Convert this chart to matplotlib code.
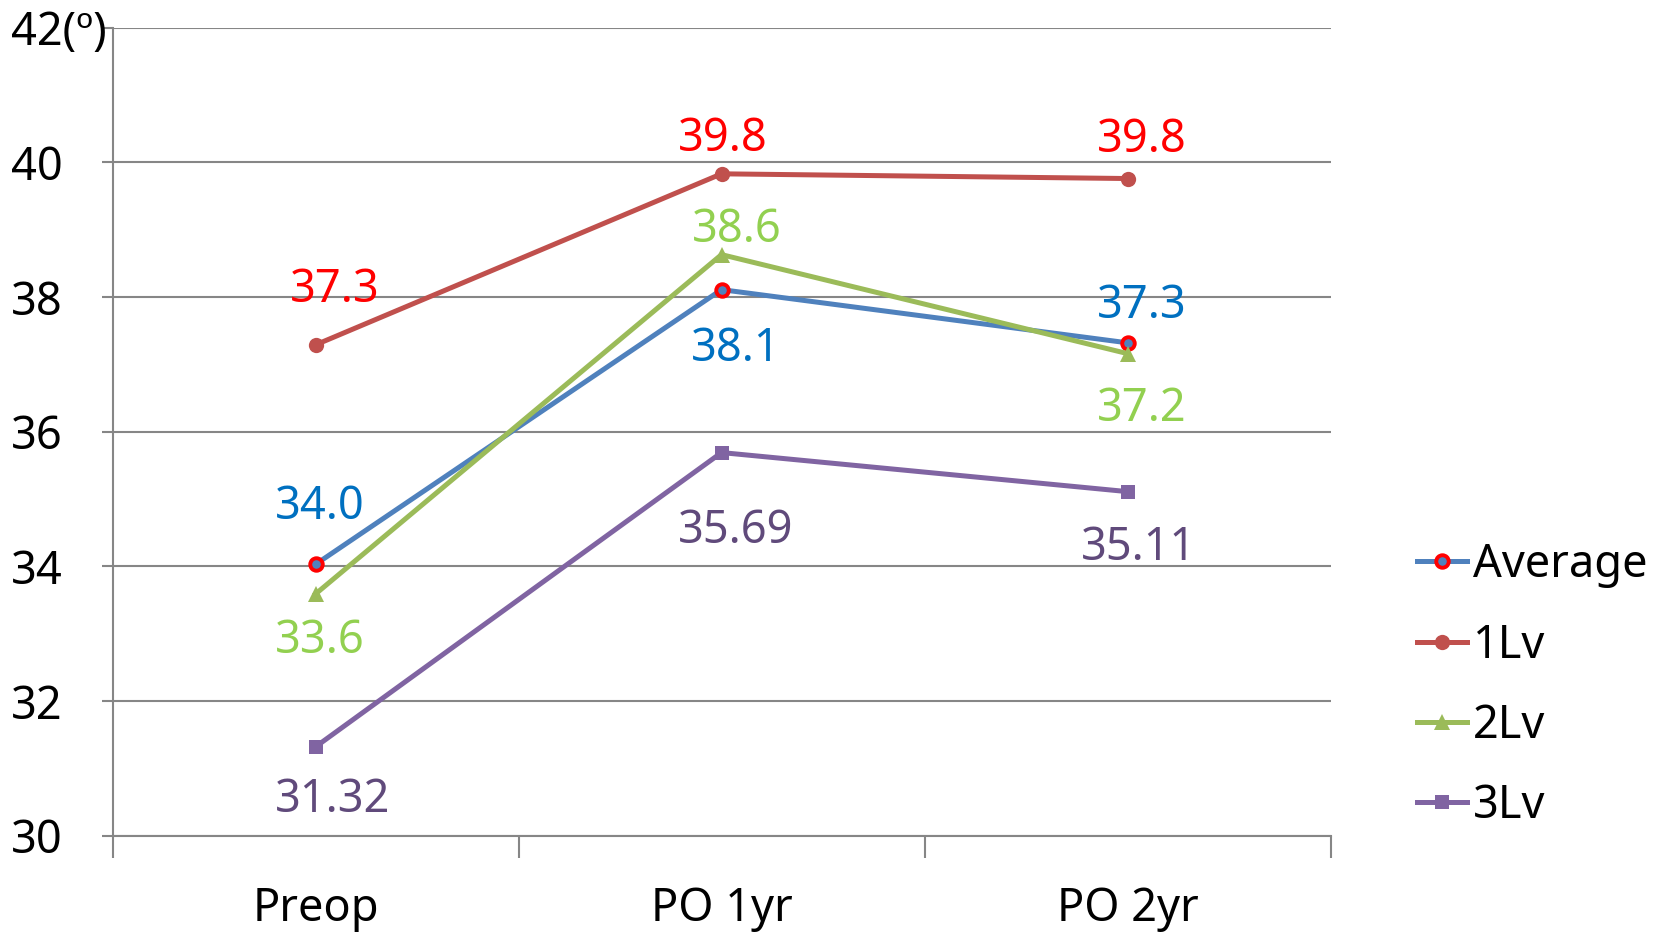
import numpy as np
import matplotlib.pyplot as plt

plt.rcParams['font.family'] = ['Noto Sans', 'DejaVu Sans']

periods = ["Preop", "PO 1yr", "PO 2yr"]
series_names = ["Average", "1Lv", "2Lv", "3Lv"]
avg_vals = [34.03, 38.11, 37.32]
lv1_vals = [37.29, 39.83, 39.76]
lv2_vals = [33.59, 38.63, 37.16]
lv3_vals = [31.32, 35.69, 35.11]
label_decimals = [1, 1, 1, 2]
y_ticks = [30, 32, 34, 36, 38, 40, 42]
y_tick_labels = ["30", "32", "34", "36", "38", "40", "42(\u00ba)"]

line_colors = ["#4F81BD", "#C0504D", "#9BBB59", "#8064A2"]
text_colors = ["#0070C0", "#FF0000", "#92D050", "#604A7B"]
markers = ["o", "o", "^", "s"]
marker_sizes = [9, 11, 11, 10]

# value label offsets in pixels, one row per series
label_offsets = [
    [(4, 57), (14, -59), (14, 37)],
    [(19, 55), (1, 35), (14, 39)],
    [(4, -47), (15, 25), (14, -55)],
    [(17, -53), (14, -78), (11, -56)],
]

fig = plt.figure(figsize=(16.65, 9.33), dpi=100)
ax = fig.add_axes([0.0676, 0.1043, 0.7315, 0.866])

x = np.arange(len(periods))
all_vals = [avg_vals, lv1_vals, lv2_vals, lv3_vals]

for i, vals in enumerate(all_vals):
    if i == 0:
        ax.plot(x, vals, color=line_colors[i], lw=3.6, marker="o",
                markersize=marker_sizes[i], markerfacecolor=line_colors[i],
                markeredgecolor="#FF0000", markeredgewidth=2.8,
                label=series_names[i], zorder=3)
    else:
        ax.plot(x, vals, color=line_colors[i], lw=3.6, marker=markers[i],
                markersize=marker_sizes[i], markeredgewidth=0,
                label=series_names[i], zorder=3)
    for j, v in enumerate(vals):
        dx, dy = label_offsets[i][j]
        ax.annotate(f"{v:.{label_decimals[i]}f}", (x[j], v),
                    xytext=(dx, dy), textcoords="offset pixels",
                    ha="center", va="center", fontsize=32.5,
                    color=text_colors[i], zorder=4)

ax.set_xlim(-0.5, 2.5)
ax.set_ylim(30, 42)
ax.set_yticks(y_ticks)
ax.set_yticklabels(y_tick_labels, fontsize=32.5, ha="left")
ax.tick_params(axis="y", length=8, width=1.5, color="#868686", pad=65)

ax.set_xticks([-0.5, 0.5, 1.5, 2.5])
ax.set_xticklabels([])
ax.set_xticks(x, minor=True)
ax.set_xticklabels(periods, minor=True, fontsize=32.5)
ax.tick_params(axis="x", which="major", length=16, width=1.5, color="#868686")
ax.tick_params(axis="x", which="minor", length=0, pad=36)

ax.yaxis.grid(True, color="#868686", lw=1.5)
ax.set_axisbelow(True)
for side in ["top", "right"]:
    ax.spines[side].set_visible(False)
for side in ["left", "bottom"]:
    ax.spines[side].set_color("#868686")
    ax.spines[side].set_linewidth(1.5)

fig.legend(loc="center left", bbox_to_anchor=(0.851, 0.265), frameon=False,
           fontsize=32.5, handlelength=1.1, handletextpad=0.15,
           labelspacing=0.76, borderpad=0, borderaxespad=0)

fig.savefig("out.png", dpi=100)
